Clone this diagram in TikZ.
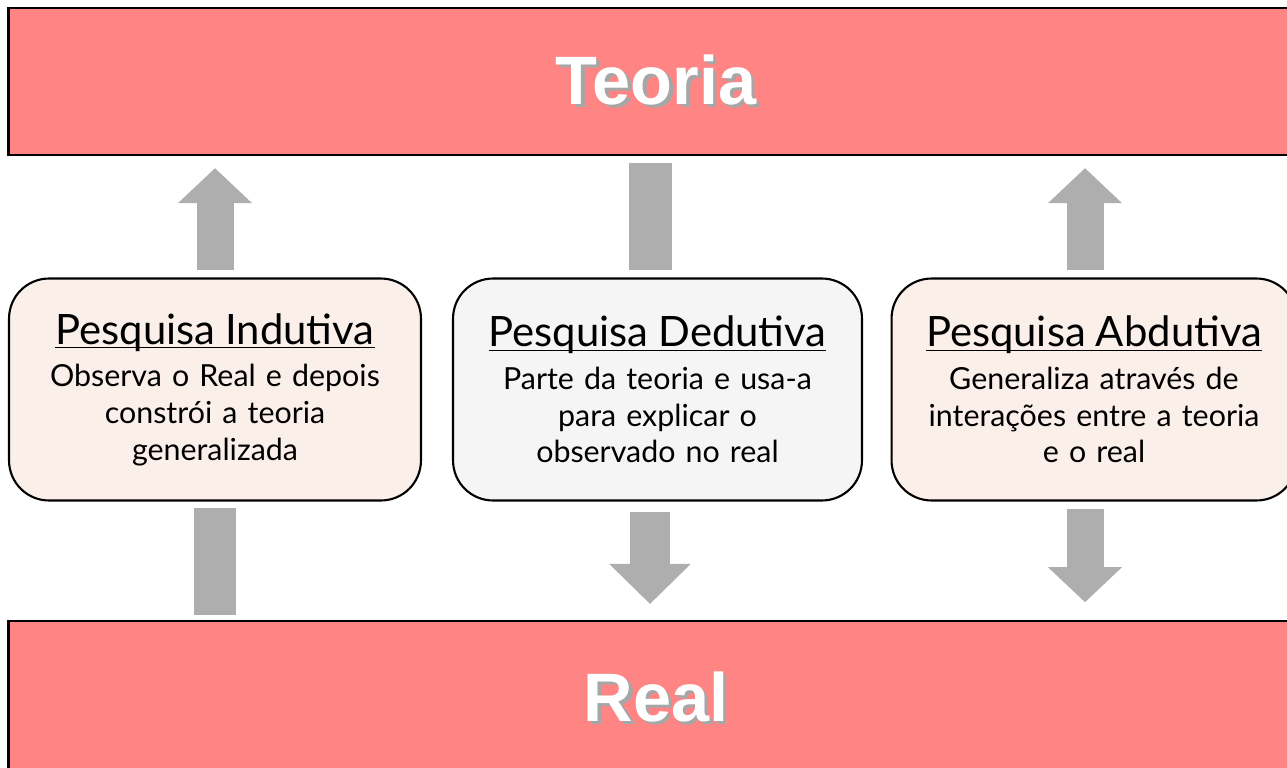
\documentclass[tikz,border=0pt]{standalone}
\usepackage{fontspec}
\setmainfont{Lato}
\newfontfamily\barfont{Liberation Sans}
\usetikzlibrary{arrows.meta,positioning}

\definecolor{barred}{HTML}{FF8585}
\definecolor{peach}{HTML}{FBEFEA}
\definecolor{lightgrey}{HTML}{F5F5F5}
\definecolor{arrowgrey}{HTML}{AEAEAE}

% white title with a soft drop shadow
\newcommand\shadowed[1]{\makebox[0pt][l]{\hspace{2pt}\raisebox{-2pt}{\color{black!35}#1}}#1}
% underline just below the baseline
\newcommand\uline[1]{\setbox0\hbox{#1}\rlap{\rule[-2.3pt]{\wd0}{0.8pt}}\box0}

\tikzset{
  bar/.style={draw=black, line width=1.4pt, fill=barred, minimum width=25.9cm,
    font=\barfont\bfseries\fontsize{39}{44}\selectfont, text=white},
  kind/.style={draw=black, line width=1.2pt, rounded corners=0.8cm, minimum height=4.44cm,
    align=center, font=\fontsize{17.3}{20.8}\selectfont, inner sep=0pt},
  bigup/.style={arrowgrey, line width=0.74cm, -{Triangle[length=0.7cm,width=1.44cm]}},
  bigdown/.style={arrowgrey, line width=0.8cm, -{Triangle[length=0.8cm,width=1.58cm]}},
  stub/.style={arrowgrey, line width=0.86cm},
}
\newcommand\headline[1]{{\fontsize{23.8}{24}\selectfont\uline{#1}}\\[3.5pt]}

\begin{document}
\begin{tikzpicture}[x=0.02cm,y=-0.02cm]
    \useasboundingbox (0,0) rectangle (1287,767);
    % the two bars
    \node[bar, minimum height=2.94cm] (teoria) at (656,81.5) {\shadowed{Teoria}};
    \node[bar, minimum height=3.1cm] (real) at (656,698.5) {\shadowed{Real}};
    % the three kinds of research
    \node[kind, fill=peach, minimum width=8.24cm, text width=8cm] (ind) at (215,389.5)
        {\headline{Pesquisa Indutiva}Observa o Real e depois\\constrói a teoria\\generalizada\\[-5pt]};
    \node[kind, fill=lightgrey, minimum width=8.18cm, text width=8cm] (ded) at (657.5,389.5)
        {\headline{Pesquisa Dedutiva}Parte da teoria e usa-a\\para explicar o\\observado no real\\[-5pt]};
    \node[kind, fill=peach, minimum width=8.1cm, text width=8cm] (abd) at (1094,389.5)
        {\headline{Pesquisa Abdutiva}Generaliza através de\\interações entre a teoria\\e o real\\[-5pt]};
    % arrows
    \draw[bigup, shorten <=4pt, shorten >=6.8pt] (ind.north) -- (ind.north |- teoria.south);
    \draw[stub, shorten <=4pt, shorten >=4pt] ([xshift=-0.15cm]ded.north) -- ([xshift=-0.15cm]ded.north |- teoria.south);
    \draw[bigdown, shorten <=5.7pt, shorten >=9pt] ([xshift=-0.15cm]ded.south) -- ([xshift=-0.15cm]ded.south |- real.north);
    \draw[bigup, shorten <=4pt, shorten >=6.8pt] ([xshift=-0.18cm]abd.north) -- ([xshift=-0.18cm]abd.north |- teoria.south);
    \draw[bigdown, line width=0.74cm, -{Triangle[length=0.7cm,width=1.44cm]}, shorten <=4.5pt, shorten >=10pt]
        ([xshift=-0.18cm]abd.south) -- ([xshift=-0.18cm]abd.south |- real.north);
    \draw[white, line width=1.06cm] (ind.south) -- (ind.south |- real.north);
    \draw[stub, shorten <=3.4pt, shorten >=2.8pt] (ind.south) -- (ind.south |- real.north);
\end{tikzpicture}
\end{document}
